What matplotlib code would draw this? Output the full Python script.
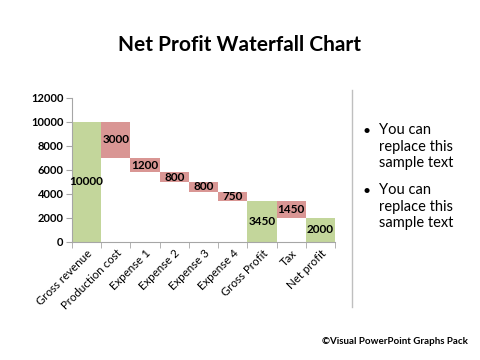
import matplotlib
matplotlib.use('Agg')
import matplotlib.pyplot as plt
import numpy as np

plt.rcParams['font.family'] = ['Lato', 'DejaVu Sans']

# data
categories = ['Gross revenue', 'Production cost', 'Expense 1', 'Expense 2', 'Expense 3',
              'Expense 4', 'Gross Profit', 'Tax', 'Net profit']
values = [10000, 3000, 1200, 800, 800, 750, 3450, 1450, 2000]
bases = [0, 7000, 5800, 5000, 4200, 3450, 0, 2000, 0]
is_total = [True, False, False, False, False, False, True, False, True]
bullets = ['You can\nreplace this\nsample text', 'You can\nreplace this\nsample text']

green = '#c3d69b'
red = '#d99694'
axis_col = '#a6a6a6'

fig = plt.figure(figsize=(4.8, 3.6), dpi=100)
ax = fig.add_axes([0.15, 0.328, 0.548, 0.40])

x = np.arange(len(categories))
colors = [green if t else red for t in is_total]
ax.bar(x, values, bottom=bases, width=1.0, color=colors, align='center')

for xi, v, b in zip(x, values, bases):
    ax.text(xi, b + v / 2, str(v), ha='center', va='center', fontsize=8.5, fontweight='bold')

ax.set_xlim(-0.5, len(categories) - 0.5)
ax.set_ylim(0, 12000)
ax.set_yticks(range(0, 12001, 2000))
ax.set_yticklabels([str(v) for v in range(0, 12001, 2000)], fontsize=8, fontweight='bold')

ax.set_xticks(x)
ax.set_xticklabels(categories, rotation=45, ha='right', rotation_mode='anchor', fontsize=8.3)
ax.tick_params(axis='x', length=0, pad=4)
ax.set_xticks(np.arange(-0.5, len(categories)), minor=True)
ax.tick_params(axis='x', which='minor', length=4, color=axis_col, direction='out')
ax.tick_params(axis='y', length=4, color=axis_col, pad=2)

for s in ['top', 'right']:
    ax.spines[s].set_visible(False)
for s in ['left', 'bottom']:
    ax.spines[s].set_color(axis_col)
    ax.spines[s].set_linewidth(0.8)

fig.text(0.5, 0.875, 'Net Profit Waterfall Chart', ha='center', va='center',
         fontsize=15, fontweight='bold')

# separator line
fig.add_artist(plt.Line2D([352 / 480, 352 / 480], [1 - 90 / 360, 1 - 307 / 360],
                          color='#bfbfbf', linewidth=1))

ys = [131, 191]
for y, t in zip(ys, bullets):
    fig.text(363 / 480, 1 - y / 360, '•', ha='left', va='center', fontsize=10)
    fig.text(379 / 480, 1 - (y - 8) / 360, t, ha='left', va='top', fontsize=10.5,
             linespacing=1.25)

fig.text(322 / 480, 1 - 341 / 360, '©Visual PowerPoint Graphs Pack', ha='left', va='center',
         fontsize=7, fontweight='bold')

fig.savefig('out.png', dpi=100)
